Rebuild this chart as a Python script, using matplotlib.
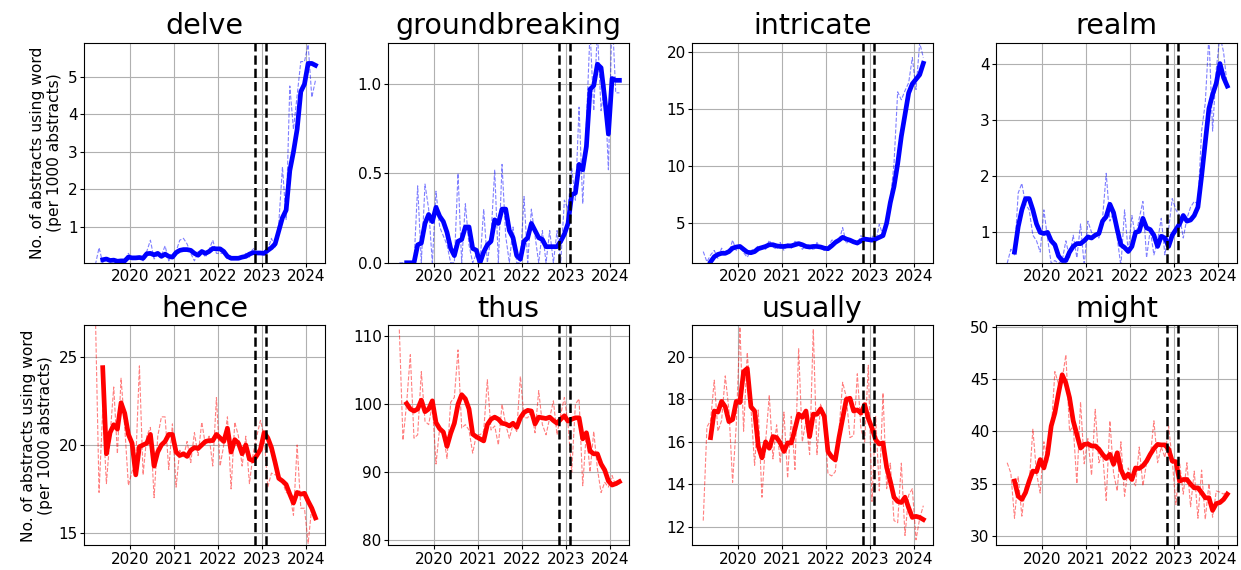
import numpy as np
import pandas as pd
import matplotlib
matplotlib.use("Agg")
import matplotlib.pyplot as plt
from matplotlib.ticker import MultipleLocator

# ── Data (monthly, Mar 2019 – Mar 2024, per 1000 abstracts) ─────────────────
months = pd.date_range("2019-03-01", "2024-03-01", freq="MS")

delve_raw = [0.0, 0.45, 0.05, 0.15, 0.1, 0.1, 0.08, 0.12, 0.1, 0.3,
             0.15, 0.2, 0.2, 0.1, 0.35, 0.65, 0.15, 0.25, 0.25, 0.5,
             0.1, 0.25, 0.35, 0.65, 0.7, 0.55, 0.3, 0.1, 0.35, 0.35,
             0.2, 0.4, 0.65, 0.3, 0.3, 0.3, 0.15, 0.15, 0.2, 0.15,
             0.2, 0.3, 0.2, 0.45, 0.3, 0.3, 0.3, 0.4, 0.7, 0.45,
             1.1, 2.6, 1.2, 4.75, 3.6, 4.5, 5.4, 5.4, 5.85, 4.45, 4.9]
delve_smooth = [0.13, 0.15, 0.11, 0.12, 0.09, 0.1, 0.1, 0.2, 0.18, 0.18,
                0.19, 0.17, 0.29, 0.3, 0.26, 0.3, 0.22, 0.28, 0.22, 0.2,
                0.32, 0.38, 0.4, 0.4, 0.38, 0.3, 0.25, 0.35, 0.3, 0.35,
                0.43, 0.42, 0.42, 0.35, 0.22, 0.17, 0.17, 0.17, 0.2, 0.22,
                0.28, 0.32, 0.31, 0.31, 0.3, 0.38, 0.45, 0.55, 0.9, 1.25,
                1.45, 2.5, 3.0, 3.6, 4.6, 4.8, 5.35, 5.35, 5.3]

groundbreaking_raw = [0, 0, 0, 0, 0, 0.43, 0.0, 0.44, 0.3, 0.0,
                      0.4, 0.2, 0.15, 0.1, 0.0, 0.0, 0.5, 0.0, 0.33, 0.1,
                      0.0, 0.05, 0.0, 0.3, 0.0, 0.15, 0.52, 0.0, 0.55, 0.15,
                      0.0, 0.2, 0.0, 0.0, 0.37, 0.0, 0.3, 0.15, 0.0, 0.18,
                      0.0, 0.18, 0.0, 0.18, 0.0, 0.35, 0.3, 0.53, 0.35, 0.87,
                      0.33, 0.78, 1.3, 0.85, 1.3, 0.85, 1.0, 0.52, 1.4, 0.95, 0.95]
groundbreaking_smooth = [0.0, 0.0, 0.0, 0.1, 0.11, 0.22, 0.27, 0.23, 0.31, 0.26,
                         0.23, 0.17, 0.08, 0.04, 0.12, 0.13, 0.2, 0.2, 0.08, 0.07,
                         0.0, 0.06, 0.1, 0.12, 0.24, 0.22, 0.3, 0.3, 0.18, 0.14,
                         0.04, 0.02, 0.12, 0.14, 0.22, 0.18, 0.14, 0.13, 0.09, 0.09,
                         0.09, 0.09, 0.12, 0.16, 0.22, 0.38, 0.39, 0.55, 0.52, 0.65,
                         0.97, 0.99, 1.11, 1.09, 0.92, 0.72, 1.03, 1.02, 1.02]

intricate_raw = [2.5, 1.6, 2.2, 2.6, 1.9, 2.8, 2.2, 2.4, 3.5, 2.6,
                 3.0, 2.4, 2.0, 2.6, 2.7, 3.0, 2.9, 2.7, 3.5, 2.9,
                 2.7, 3.3, 2.6, 3.2, 2.8, 3.4, 3.2, 2.7, 3.0, 3.1,
                 2.6, 3.3, 2.8, 2.6, 2.8, 3.5, 3.5, 3.4, 4.6, 3.2,
                 3.6, 3.3, 3.1, 3.9, 3.5, 3.4, 3.9, 3.3, 4.9, 3.9,
                 5.0, 7.0, 10.2, 16.5, 15.8, 16.6, 17.3, 19.5, 16.7, 20.8, 19.5]
intricate_smooth = [1.6, 2.05, 2.25, 2.35, 2.35, 2.5, 2.8, 2.9, 2.95, 2.7,
                    2.45, 2.4, 2.5, 2.75, 2.85, 2.95, 3.1, 3.1, 3.0, 2.95,
                    2.95, 3.0, 3.0, 3.1, 3.2, 3.1, 2.95, 2.9, 2.95, 2.95,
                    2.9, 2.8, 2.75, 3.0, 3.3, 3.5, 3.75, 3.6, 3.5, 3.35,
                    3.25, 3.45, 3.6, 3.55, 3.5, 3.6, 3.75, 3.9, 5.0, 6.8,
                    8.2, 10.2, 12.6, 14.5, 16.4, 17.2, 17.6, 18.0, 19.0]

realm_raw = [0.45, 0.7, 0.6, 1.7, 1.87, 1.5, 1.4, 0.95, 0.85, 0.65,
             1.4, 0.9, 0.45, 0.5, 0.45, 0.5, 0.85, 0.55, 0.95, 0.55,
             1.15, 0.4, 1.2, 1.0, 0.95, 0.9, 1.25, 2.05, 1.2, 1.35,
             0.9, 0.4, 1.4, 0.65, 1.3, 0.9, 1.25, 1.55, 0.55, 1.05,
             0.6, 0.85, 1.25, 0.6, 1.05, 1.6, 1.4, 1.3, 0.9, 1.25,
             1.45, 1.55, 1.5, 2.8, 3.3, 4.5, 2.8, 3.9, 4.5, 4.2, 3.6]
realm_smooth = [0.65, 1.1, 1.4, 1.6, 1.6, 1.4, 1.15, 1.0, 0.98, 1.0,
                0.85, 0.78, 0.58, 0.5, 0.5, 0.65, 0.75, 0.8, 0.8, 0.85,
                0.92, 0.9, 0.95, 0.98, 1.2, 1.28, 1.5, 1.35, 1.05, 0.78,
                0.73, 0.66, 0.75, 1.0, 1.02, 1.25, 1.08, 1.05, 0.95, 0.75,
                0.93, 0.9, 0.75, 0.95, 1.05, 1.15, 1.3, 1.2, 1.22, 1.3,
                1.45, 2.0, 2.6, 3.2, 3.45, 3.65, 4.0, 3.75, 3.6]

hence_raw = [27.5, 17.3, 22.0, 17.8, 20.5, 23.3, 19.5, 23.8, 21.0, 17.7,
             18.5, 19.0, 24.5, 18.3, 20.5, 21.0, 17.0, 20.5, 21.6, 21.6,
             18.6, 21.2, 17.6, 19.7, 19.3, 20.2, 19.0, 20.7, 19.4, 21.3,
             20.0, 20.5, 18.8, 22.7, 18.8, 20.0, 21.6, 17.5, 21.3, 20.5,
             18.8, 20.5, 17.8, 19.5, 20.5, 21.4, 20.5, 17.6, 18.4, 18.3,
             18.3, 17.9, 17.3, 17.2, 16.0, 20.0, 16.4, 16.4, 14.4, 16.5, 15.8]
hence_smooth = [24.4, 19.5, 20.7, 21.15, 20.9, 22.4, 21.8, 20.6, 20.1, 18.3,
                19.9, 20.0, 20.1, 20.6, 18.8, 19.6, 20.0, 20.2, 20.6, 20.6,
                19.6, 19.4, 19.5, 19.35, 19.7, 19.85, 19.8, 20.0, 20.2, 20.25,
                20.25, 20.6, 20.4, 20.2, 20.95, 19.6, 20.3, 20.1, 19.5, 20.0,
                19.2, 19.1, 19.4, 19.75, 20.7, 20.4, 19.85, 19.0, 18.1, 17.95,
                17.75, 17.2, 16.7, 17.3, 17.2, 17.25, 16.8, 16.4, 15.85]

thus_raw = [111.0, 94.7, 100.2, 107.3, 95.0, 95.5, 104.8, 97.5, 97.0, 100.0,
            91.2, 96.5, 95.5, 92.0, 100.3, 101.0, 108.0, 96.5, 97.0, 96.2,
            92.8, 95.5, 95.5, 96.0, 103.6, 96.2, 96.8, 94.0, 100.0, 97.0,
            95.0, 97.0, 96.0, 104.1, 98.0, 98.0, 99.0, 95.8, 102.0, 97.0,
            95.5, 98.0, 100.5, 95.5, 98.5, 101.0, 97.0, 90.0, 100.0, 100.8,
            88.0, 96.0, 90.0, 96.0, 90.5, 87.0, 88.5, 87.8, 89.5, 88.0, 88.3]
thus_smooth = [100.1, 99.3, 99.0, 99.3, 100.6, 98.9, 99.3, 100.5, 97.3, 96.4,
               95.9, 93.8, 95.7, 97.2, 100.0, 101.4, 100.8, 99.3, 95.6, 95.2,
               94.9, 94.6, 97.0, 97.8, 98.1, 97.8, 97.2, 97.1, 96.8, 97.2,
               96.6, 98.0, 98.8, 99.1, 99.0, 97.1, 98.1, 98.0, 97.9, 98.1,
               97.6, 97.2, 97.8, 98.3, 97.5, 97.8, 98.0, 98.0, 94.9, 95.8,
               93.1, 92.7, 92.7, 91.2, 90.3, 88.7, 88.1, 88.3, 88.6]

usually_raw = [12.3, 16.7, 17.0, 18.9, 16.5, 17.0, 19.1, 17.5, 14.1, 16.8,
               21.4, 16.5, 20.2, 17.6, 14.9, 17.5, 13.4, 16.0, 18.2, 15.2,
               16.8, 15.0, 17.4, 14.3, 17.2, 14.7, 20.4, 16.0, 17.0, 15.4,
               21.3, 15.4, 17.8, 17.0, 14.5, 14.4, 14.6, 16.5, 18.8, 18.1,
               16.2, 16.3, 19.2, 16.6, 16.0, 19.6, 13.2, 17.2, 13.7, 18.3,
               13.8, 15.0, 12.3, 12.2, 15.0, 11.6, 13.5, 13.8, 11.4, 12.4, 13.0]
usually_smooth = [16.2, 17.45, 17.4, 17.9, 17.65, 16.95, 17.05, 17.9, 17.85, 19.3,
                  19.45, 17.65, 17.45, 15.8, 15.25, 16.0, 15.7, 16.25, 16.2, 15.95,
                  15.55, 15.95, 15.95, 16.6, 17.3, 17.15, 17.45, 16.25, 17.3, 17.3,
                  17.55, 17.2, 15.55, 15.3, 15.15, 16.2, 17.1, 18.0, 18.05, 17.45,
                  17.5, 17.35, 17.75, 17.1, 16.65, 16.1, 15.9, 15.95, 14.8, 14.15,
                  13.4, 13.2, 13.15, 13.4, 12.9, 12.45, 12.5, 12.45, 12.35]

might_raw = [37.0, 36.0, 31.7, 35.7, 31.9, 34.8, 35.0, 40.2, 36.0, 34.1,
             39.0, 37.0, 40.0, 45.7, 44.5, 45.0, 47.3, 40.0, 40.5, 35.0,
             42.8, 36.9, 39.3, 35.8, 42.1, 37.0, 38.0, 33.4, 41.0, 36.0,
             34.3, 39.0, 33.8, 36.5, 35.5, 34.8, 38.5, 34.8, 37.0, 37.5,
             41.0, 37.0, 38.5, 37.5, 40.5, 37.2, 33.0, 37.0, 34.0, 37.0,
             32.8, 36.2, 31.7, 36.3, 31.6, 35.0, 31.8, 34.3, 34.2, 34.0, 34.3]
might_smooth = [35.25, 33.8, 33.5, 34.15, 35.25, 36.2, 36.15, 37.3, 36.5, 37.8,
                40.5, 41.75, 43.65, 45.4, 44.6, 43.2, 41.0, 39.7, 38.4, 38.75,
                38.8, 38.6, 38.6, 38.3, 37.8, 37.4, 37.8, 36.85, 37.95, 36.35,
                35.55, 35.9, 35.4, 36.5, 36.45, 36.7, 37.15, 37.8, 38.35, 38.75,
                38.7, 38.7, 38.3, 37.15, 37.1, 35.25, 35.4, 35.4, 34.95, 34.6,
                34.6, 34.15, 33.65, 33.65, 32.45, 33.1, 33.2, 33.5, 34.0]

words = ["delve", "groundbreaking", "intricate", "realm",
         "hence", "thus", "usually", "might"]
raw_series = [delve_raw, groundbreaking_raw, intricate_raw, realm_raw,
              hence_raw, thus_raw, usually_raw, might_raw]
smooth_series = [delve_smooth, groundbreaking_smooth, intricate_smooth, realm_smooth,
                 hence_smooth, thus_smooth, usually_smooth, might_smooth]
ylims = [(0.05, 5.9), (0.0, 1.23), (1.52, 20.8), (0.46, 4.37),
         (14.28, 26.8), (79.2, 111.6), (11.13, 21.47), (29.1, 50.1)]
ystep = [1, 0.5, 5, 1, 5, 10, 2, 5]
event_lines = [2022.83, 2023.08]
year_ticks = [2020, 2021, 2022, 2023, 2024]

# decimal year, mid-month
x = months.year + (months.month - 0.5) / 12

# ── Plot ─────────────────────────────────────────────────────────────────────
fig, axes = plt.subplots(2, 4, figsize=(12.41, 5.70), dpi=100)
plt.subplots_adjust(left=0.0677, right=0.9968, top=0.925, bottom=0.043,
                    wspace=0.26, hspace=0.285)

for i, ax in enumerate(axes.flat):
    color = "blue" if i < 4 else "red"
    raw = np.array(raw_series[i])
    smooth = np.array(smooth_series[i])
    ax.plot(x, raw, color=color, linestyle="--", linewidth=0.8, alpha=0.5)
    ax.plot(x[len(x) - len(smooth):], smooth, color=color, linewidth=3.4)
    for ev in event_lines:
        ax.axvline(ev, color="black", linestyle="--", linewidth=1.8)
    ax.set_title(words[i], fontsize=20.5)
    ax.set_xticks(year_ticks)
    ax.set_xlim(2018.95, 2024.43)
    ax.set_ylim(*ylims[i])
    ax.yaxis.set_major_locator(MultipleLocator(ystep[i]))
    ax.tick_params(labelsize=11, length=3, pad=1.5)
    ax.grid(True)
    if i % 4 == 0:
        ax.set_ylabel("No. of abstracts using word\n(per 1000 abstracts)", fontsize=11.2)

plt.savefig("out.png", dpi=100)
